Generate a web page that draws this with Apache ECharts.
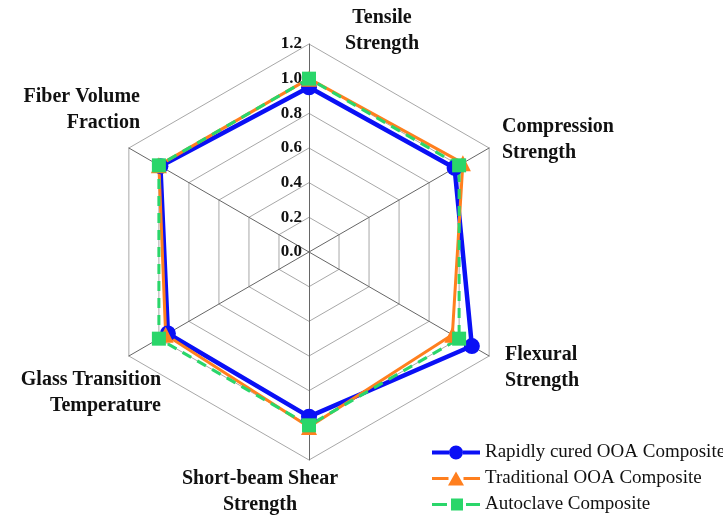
<!DOCTYPE html>
<html>
<head>
<meta charset="utf-8">
<script src="https://cdn.jsdelivr.net/npm/echarts@6/dist/echarts.min.js"></script>
<style>
  html, body { margin: 0; padding: 0; background: #fff; }
  #chart { width: 723px; height: 515px; }
</style>
</head>
<body>
<div id="chart"></div>
<script>
// indicators, counter-clockwise from the top
var indicatorNames = ['Tensile\nStrength', 'Fiber Volume\nFraction', 'Glass Transition\nTemperature',
    'Short-beam Shear\nStrength', 'Flexural\nStrength', 'Compression\nStrength'];
var seriesNames = ['Rapidly cured OOA Composite', 'Traditional OOA Composite', 'Autoclave Composite'];
var rapidValues = [0.95, 0.99, 0.94, 0.95, 1.085, 0.97];
var traditionalValues = [1.0, 1.0, 0.955, 1.01, 0.955, 1.025];
var autoclaveValues = [1.0, 1.0, 1.0, 1.0, 1.0, 1.0];

var myChart = echarts.init(document.getElementById('chart'));

var serifFont = '"Liberation Serif", "Times New Roman", serif';
var blue = '#0a10f5', orange = '#ff7f1e', green = '#2ad66a';

// where the indicator labels sit in the picture
var labelSpots = [
    { x: 382, y: 31, align: 'center' },
    { x: 140, y: 110, align: 'right' },
    { x: 161, y: 393, align: 'right' },
    { x: 260, y: 492, align: 'center' },
    { x: 505, y: 368, align: 'left' },
    { x: 502, y: 140, align: 'left' }
];

// legend icons: line + marker, like the plotting program draws them
var legendIcons = [
    'path://M0,5 L17,5 L17,9 L0,9 Z M31,5 L48,5 L48,9 L31,9 Z M24,0 A7,7 0 1 1 24,14 A7,7 0 1 1 24,0 Z',
    'path://M0,5.5 L16.5,5.5 L16.5,8.5 L0,8.5 Z M31.5,5.5 L48,5.5 L48,8.5 L31.5,8.5 Z M24,0 L32,14 L16,14 Z',
    'path://M0,4.5 L15,4.5 L15,7.5 L0,7.5 Z M19,0 L31,0 L31,12 L19,12 Z M34,4.5 L48,4.5 L48,7.5 L34,7.5 Z'
];

var indicators = indicatorNames.map(function (n, i) {
    var ind = { name: n, min: 0, max: 1.2 };
    if (i === 0) {
        ind.axisLabel = { show: true };
    }
    return ind;
});

var option = {
    backgroundColor: '#fff',
    radar: {
        center: [309, 252],
        radius: 208,
        startAngle: 90,
        splitNumber: 6,
        shape: 'polygon',
        indicator: indicators,
        axisName: { show: false },
        axisLine: { lineStyle: { color: '#666', width: 1 } },
        splitLine: { lineStyle: { color: '#a8a8a8', width: 1 } },
        splitArea: { show: false },
        axisTick: { show: false },
        axisLabel: {
            show: false,
            margin: 7,
            color: '#111',
            fontFamily: serifFont,
            fontWeight: 'bold',
            fontSize: 17,
            formatter: function (v) { return Number(v).toFixed(1); }
        }
    },
    legend: {
        orient: 'vertical',
        left: 432,
        top: 443,
        padding: 0,
        itemWidth: 48,
        itemHeight: 14,
        itemGap: 7,
        textStyle: { fontFamily: serifFont, fontSize: 19, color: '#111' },
        data: seriesNames.map(function (n, i) {
            return { name: n, icon: legendIcons[i] };
        })
    },
    graphic: labelSpots.map(function (s, i) {
        return {
            type: 'text',
            x: s.x,
            y: s.y,
            style: {
                text: indicatorNames[i],
                font: 'bold 20px ' + serifFont,
                lineHeight: 26,
                fill: '#111',
                align: s.align,
                verticalAlign: 'middle'
            }
        };
    }),
    series: [{
        type: 'radar',
        data: [
            {
                name: seriesNames[0],
                value: rapidValues,
                symbol: 'circle',
                symbolSize: 16,
                lineStyle: { color: blue, width: 4.5 },
                itemStyle: { color: blue }
            },
            {
                name: seriesNames[1],
                value: traditionalValues,
                symbol: 'triangle',
                symbolSize: 16,
                lineStyle: { color: orange, width: 3 },
                itemStyle: { color: orange }
            },
            {
                name: seriesNames[2],
                value: autoclaveValues,
                symbol: 'rect',
                symbolSize: 14,
                lineStyle: { color: green, width: 3, type: [10, 7] },
                itemStyle: { color: green }
            }
        ]
    }]
};

myChart.setOption(option);
</script>
</body>
</html>
